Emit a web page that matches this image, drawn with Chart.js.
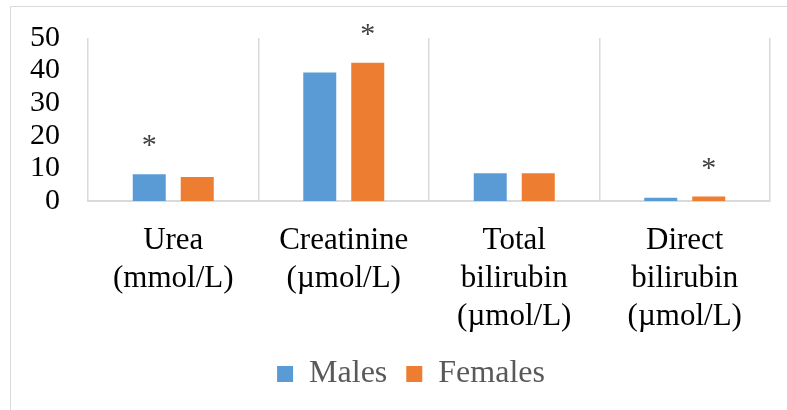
<!DOCTYPE html>
<html>
<head>
<meta charset="utf-8">
<script src="https://cdn.jsdelivr.net/npm/chart.js@4"></script>
<style>
html,body{margin:0;padding:0;background:#fff;}
#wrap{position:relative;width:787px;height:410px;}
canvas{display:block;}
</style>
</head>
<body>
<div id="wrap"><canvas id="c" width="787" height="410"></canvas></div>
<script>
const categories = [
  ["Urea", "(mmol/L)"],
  ["Creatinine", "(µmol/L)"],
  ["Total", "bilirubin", "(µmol/L)"],
  ["Direct", "bilirubin", "(µmol/L)"]
];
const seriesNames = ["Males", "Females"];
const males = [8.2, 39.4, 8.5, 1.0];
const females = [7.4, 42.4, 8.5, 1.35];
const malesSignificant = [true, false, false, false];
const femalesSignificant = [false, true, false, true];
const yMin = 0, yMax = 50, yStep = 10;

const SERIF = "'Liberation Serif', 'Times New Roman', serif";

const frame = {
  id: 'frame',
  beforeDraw(chart) {
    const ctx = chart.ctx;
    ctx.save();
    ctx.strokeStyle = '#d9d9d9';
    ctx.lineWidth = 1;
    ctx.beginPath();
    ctx.moveTo(10.5, 420);
    ctx.lineTo(10.5, 6.5);
    ctx.lineTo(800, 6.5);
    ctx.stroke();
    ctx.restore();
  }
};

const legendShift = {
  id: 'legendShift',
  afterLayout(chart) {
    const lg = chart.legend;
    if (lg) { lg.left += 16; lg.right += 16; }
  }
};

const asterisks = {
  id: 'asterisks',
  afterDatasetsDraw(chart) {
    const ctx = chart.ctx;
    const flags = [malesSignificant, femalesSignificant];
    ctx.save();
    ctx.fillStyle = '#404040';
    ctx.font = '30px ' + SERIF;
    ctx.textAlign = 'center';
    ctx.textBaseline = 'alphabetic';
    chart.data.datasets.forEach((ds, di) => {
      const meta = chart.getDatasetMeta(di);
      meta.data.forEach((el, i) => {
        if (flags[di][i]) {
          ctx.fillText('*', el.x, el.y - 20);
        }
      });
    });
    ctx.restore();
  }
};

new Chart(document.getElementById('c'), {
  type: 'bar',
  data: {
    labels: categories,
    datasets: [
      { label: seriesNames[0], data: males, backgroundColor: '#5B9BD5', borderWidth: 0 },
      { label: seriesNames[1], data: females, backgroundColor: '#ED7D31', borderWidth: 0 }
    ]
  },
  options: {
    responsive: false,
    animation: false,
    events: [],
    categoryPercentage: 0.563,
    barPercentage: 0.6875,
    layout: { padding: { left: 20, right: 17, top: 38, bottom: 10 } },
    plugins: {
      tooltip: { enabled: false },
      legend: {
        position: 'bottom',
        labels: {
          boxWidth: 16,
          boxHeight: 16,
          padding: 19,
          color: '#595959',
          font: { family: SERIF, size: 32 }
        }
      }
    },
    scales: {
      x: {
        grid: { display: true, drawTicks: false, color: '#d9d9d9', lineWidth: 1.5, offset: true },
        border: { display: true, color: '#d9d9d9', width: 2 },
        ticks: {
          color: '#000',
          padding: 21,
          maxRotation: 0,
          autoSkip: false,
          font: { family: SERIF, size: 31, lineHeight: 1.23 }
        },
        afterFit(scale) { scale.height = 138; }
      },
      y: {
        min: yMin,
        max: yMax,
        grid: { display: false, drawTicks: false },
        border: { display: false },
        ticks: {
          stepSize: yStep,
          color: '#000',
          padding: 28,
          autoSkip: false,
          font: { family: SERIF, size: 30 }
        },
        afterFit(scale) { scale.width = 68; scale.paddingTop = 0; scale.paddingBottom = 0; }
      }
    }
  },
  plugins: [frame, legendShift, asterisks]
});
</script>
</body>
</html>
